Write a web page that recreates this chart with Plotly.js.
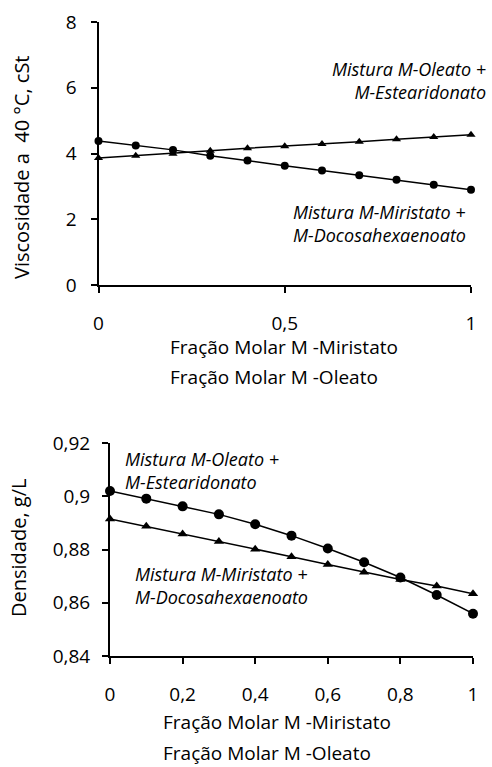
<!DOCTYPE html>
<html>
<head>
<meta charset="utf-8">
<script src="https://cdn.plot.ly/plotly-3.0.1.min.js"></script>
<style>html,body{margin:0;padding:0;background:#fff;}#chart{width:492px;height:767px;}</style>
</head>
<body>
<div id="chart"></div>
<script>
const fraction = [0, 0.1, 0.2, 0.3, 0.4, 0.5, 0.6, 0.7, 0.8, 0.9, 1.0];
const viscCircle = [4.38, 4.24, 4.11, 3.93, 3.79, 3.63, 3.48, 3.34, 3.20, 3.05, 2.90];
const viscTriangle = [3.86, 3.93, 3.99, 4.08, 4.16, 4.22, 4.29, 4.36, 4.43, 4.50, 4.57];
const densCircle = [0.902, 0.8991, 0.8962, 0.8932, 0.8895, 0.8852, 0.8804, 0.8752, 0.8695, 0.8629, 0.8559];
const densTriangle = [0.8915, 0.8887, 0.8858, 0.8830, 0.8801, 0.8773, 0.8744, 0.8715, 0.8687, 0.8663, 0.8634];
const viscTicks = [0, 2, 4, 6, 8];
const densTicks = [0.84, 0.86, 0.88, 0.90, 0.92];
const xTicksTop = [0, 0.5, 1];
const xTicksBottom = [0, 0.2, 0.4, 0.6, 0.8, 1];

const FONT = 'Open Sans, sans-serif';
const line = {color: '#000', width: 1.5};

const traces = [
  {x: fraction, y: viscCircle, xaxis: 'x', yaxis: 'y', mode: 'lines+markers', cliponaxis: false,
   line: line, marker: {symbol: 'circle', size: 8, color: '#000'}, name: 'Mistura M-Miristato + M-Docosahexaenoato'},
  {x: fraction, y: viscTriangle, xaxis: 'x', yaxis: 'y', mode: 'lines+markers', cliponaxis: false,
   line: line, marker: {symbol: 'triangle-up', size: 8, color: '#000'}, name: 'Mistura M-Oleato + M-Estearidonato'},
  {x: fraction, y: densCircle, xaxis: 'x2', yaxis: 'y2', mode: 'lines+markers', cliponaxis: false,
   line: line, marker: {symbol: 'circle', size: 10, color: '#000'}, name: 'Mistura M-Oleato + M-Estearidonato'},
  {x: fraction, y: densTriangle, xaxis: 'x2', yaxis: 'y2', mode: 'lines+markers', cliponaxis: false,
   line: line, marker: {symbol: 'triangle-up', size: 9, color: '#000'}, name: 'Mistura M-Miristato + M-Docosahexaenoato'}
];

const axisCommon = {
  showgrid: false, zeroline: false, showline: true, linecolor: '#000', linewidth: 2,
  ticks: 'outside', ticklen: 6, tickwidth: 2, tickcolor: '#000',
  tickfont: {family: FONT, size: 19, color: '#000'}
};

const W = 492, H = 767;
const titleFont = {family: FONT, size: 19, color: '#000'};
const noteFont = {family: FONT, size: 18, color: '#000'};
const layout = {
  width: W, height: H,
  margin: {l: 0, r: 0, t: 0, b: 0},
  paper_bgcolor: '#fff', plot_bgcolor: '#fff',
  showlegend: false,
  separators: ',.',
  font: {family: FONT, color: '#000'},
  xaxis: Object.assign({}, axisCommon, {domain: [98.5/W, 471/W], range: [0, 1], tickvals: xTicksTop, anchor: 'y', ticklabelstandoff: 14}),
  yaxis: Object.assign({}, axisCommon, {domain: [1-285/H, 1-22/H], range: [0, 8], tickvals: viscTicks, anchor: 'x', ticklabelstandoff: 10}),
  xaxis2: Object.assign({}, axisCommon, {domain: [110/W, 473/W], range: [0, 1], tickvals: xTicksBottom, anchor: 'y2', ticklabelstandoff: 14}),
  yaxis2: Object.assign({}, axisCommon, {domain: [1-656/H, 1-443/H], range: [0.84, 0.92], tickvals: densTicks, anchor: 'x2', ticklabelstandoff: 8,
    tickformat: '.2~f'}),
  annotations: [
    {xref: 'paper', yref: 'paper', x: 21/W, y: 1-167/H, xanchor: 'center', yanchor: 'middle', textangle: -90, showarrow: false,
     text: 'Viscosidade a  40 °C, cSt', font: {family: FONT, size: 20, color: '#000'}},
    {xref: 'paper', yref: 'paper', x: 18/W, y: 1-548/H, xanchor: 'center', yanchor: 'middle', textangle: -90, showarrow: false,
     text: 'Densidade, g/L', font: {family: FONT, size: 20, color: '#000'}},
    {xref: 'paper', yref: 'paper', x: 168/W, y: 1-347/H, xanchor: 'left', yanchor: 'middle', showarrow: false,
     text: 'Fração Molar M -Miristato', font: titleFont},
    {xref: 'paper', yref: 'paper', x: 168/W, y: 1-377/H, xanchor: 'left', yanchor: 'middle', showarrow: false,
     text: 'Fração Molar M -Oleato', font: titleFont},
    {xref: 'paper', yref: 'paper', x: 161/W, y: 1-722/H, xanchor: 'left', yanchor: 'middle', showarrow: false,
     text: 'Fração Molar M -Miristato', font: titleFont},
    {xref: 'paper', yref: 'paper', x: 161/W, y: 1-753/H, xanchor: 'left', yanchor: 'middle', showarrow: false,
     text: 'Fração Molar M -Oleato', font: titleFont},
    {xref: 'paper', yref: 'paper', x: 488/W, y: 1-80/H, xanchor: 'right', yanchor: 'middle', align: 'right', showarrow: false,
     text: '<i>Mistura M-Oleato +</i><br><i>M-Estearidonato</i>', font: noteFont},
    {xref: 'paper', yref: 'paper', x: 291/W, y: 1-224/H, xanchor: 'left', yanchor: 'middle', align: 'left', showarrow: false,
     text: '<i>Mistura M-Miristato +</i><br><i>M-Docosahexaenoato</i>', font: noteFont},
    {xref: 'paper', yref: 'paper', x: 123/W, y: 1-471/H, xanchor: 'left', yanchor: 'middle', align: 'left', showarrow: false,
     text: '<i>Mistura M-Oleato +</i><br><i>M-Estearidonato</i>', font: noteFont},
    {xref: 'paper', yref: 'paper', x: 133/W, y: 1-585/H, xanchor: 'left', yanchor: 'middle', align: 'left', showarrow: false,
     text: '<i>Mistura M-Miristato +</i><br><i>M-Docosahexaenoato</i>', font: noteFont}
  ]
};

Plotly.newPlot('chart', traces, layout, {displayModeBar: false, staticPlot: true});
</script>
</body>
</html>
